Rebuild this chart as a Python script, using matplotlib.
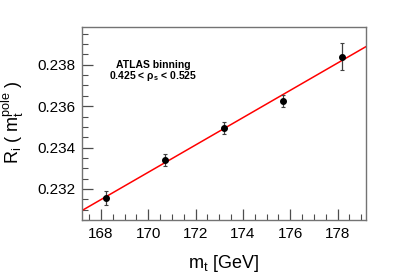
import numpy as np
import matplotlib
matplotlib.use('Agg')
import matplotlib.pyplot as plt
from matplotlib.ticker import MultipleLocator

plt.rcParams['font.family'] = ['Liberation Sans', 'DejaVu Sans']
plt.rcParams['mathtext.default'] = 'regular'

# top mass points and ratio values
mass = np.array([168.2, 170.7, 173.2, 175.7, 178.2])
ratio = np.array([0.23158, 0.23340, 0.23495, 0.23626, 0.23840])
ratio_err = np.array([0.00034, 0.00030, 0.00030, 0.00030, 0.00066])

fig = plt.figure(figsize=(4.07, 2.76), dpi=100)
ax = fig.add_axes([82 / 407, 1 - 220 / 276, 284 / 407, 193.5 / 276])

# straight line fit
p = np.polyfit(mass, ratio, 1)
xl = np.array([167.2, 179.2])
ax.plot(xl, np.polyval(p, xl), color='red', lw=1.1, zorder=2)

ax.errorbar(mass, ratio, yerr=ratio_err, fmt='o', color='black', ms=4,
            ecolor='0.25', elinewidth=0.9, capsize=1.5, capthick=0.8, zorder=3)

ax.set_xlim(167.2, 179.2)
ax.set_ylim(0.23050, 0.23985)
ax.xaxis.set_major_locator(MultipleLocator(2))
ax.xaxis.set_minor_locator(MultipleLocator(0.5))
ax.yaxis.set_major_locator(MultipleLocator(0.002))
ax.yaxis.set_minor_locator(MultipleLocator(0.0005))
ax.yaxis.set_major_formatter(matplotlib.ticker.FormatStrFormatter('%.3f'))
ax.tick_params(which='both', direction='in', top=False, right=False,
               labelsize=11, color='0.3', pad=5)
ax.tick_params(which='major', length=8, width=0.9)
ax.tick_params(which='minor', length=4, width=0.8)
for s in ax.spines.values():
    s.set_color('0.45')
    s.set_linewidth(1.0)

ax.text(0.25, 0.80, 'ATLAS binning', transform=ax.transAxes, ha='center',
        va='center', fontsize=7.5, fontweight='bold')
ax.text(0.25, 0.743, r'0.425 < $\rho_{s}$ < 0.525', transform=ax.transAxes,
        ha='center', va='center', fontsize=7.5, fontweight='bold')

fig.text(13 / 407, 1 - 122 / 276, r'$R_{i}$ ( $m_{t}^{pole}$ )', rotation=90,
         ha='center', va='center', fontsize=13)
fig.text(223 / 407, 1 - 263 / 276, r'$m_{t}$ [GeV]', ha='center',
         va='center', fontsize=13)

fig.savefig('out.png', dpi=100)
